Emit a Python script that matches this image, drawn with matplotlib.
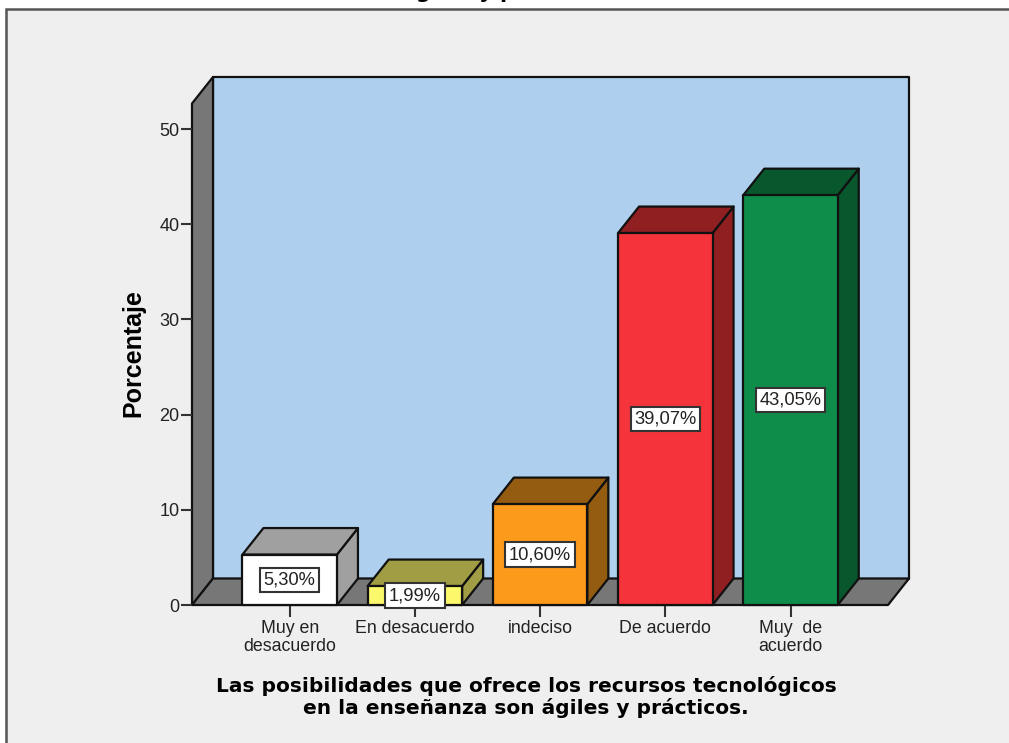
#!/usr/bin/env python3
"""
3D style bar chart of Porcentaje per answer, drawn with plain 2D polygons
"""

import matplotlib
matplotlib.use('Agg')
import matplotlib.pyplot as plt
from matplotlib.patches import Rectangle

# Data
categorias = ['Muy en\ndesacuerdo', 'En desacuerdo', 'indeciso', 'De acuerdo', 'Muy  de\nacuerdo']
porcentajes = [5.30, 1.99, 10.60, 39.07, 43.05]
etiquetas = ['5,30%', '1,99%', '10,60%', '39,07%', '43,05%']
y_ticks = [0, 10, 20, 30, 40, 50]

frente = ['#ffffff', '#fbf86b', '#fb9a1b', '#f4333b', '#0e8c4a']
lado = ['#a0a0a0', '#a09d45', '#945c10', '#901f22', '#08572d']

W, H = 1009, 743
FONDO = '#efefef'
PARED = '#aed0ee'
GRIS = '#777777'
BORDE = '#111111'

# Pixel layout of the plot box
x_izq, x_der, y_cero, y_techo = 192, 909, 605, 77
px_cat, px_0 = 125.2, 289.7
px_val = 9.52
ancho = 94.5 / px_cat
prof_x = 21 / px_cat
prof_y = 26.5 / px_val

plt.rcParams['font.family'] = ['Liberation Sans', 'DejaVu Sans']

fig = plt.figure(figsize=(W / 100, H / 100), dpi=100, facecolor='white')

# Grey panel with its frame, it runs off the right and bottom edges
fig.patches.append(Rectangle((6 / W, -0.01), 1.1, (H - 9) / H + 0.01, transform=fig.transFigure,
                             facecolor=FONDO, edgecolor='#555555', linewidth=1.8, zorder=-1))

ax = fig.add_axes([x_izq / W, 1 - y_cero / H, (x_der - x_izq) / W, (y_cero - y_techo) / H])
ax.set_xlim((x_izq - px_0) / px_cat, (x_der - px_0) / px_cat)
ax.set_ylim(0, (y_cero - y_techo) / px_val)
ax.patch.set_visible(False)
for s in ax.spines.values():
    s.set_visible(False)

x0, x1 = ax.get_xlim()
top = ax.get_ylim()[1]
x1f = x1 - prof_x  # front right corner of the floor


def poly(xs, ys, color, z):
    ax.fill(xs, ys, facecolor=color, edgecolor=BORDE, linewidth=1.6, joinstyle='round',
            clip_on=False, zorder=z)


# Walls and floor
poly([x0 + prof_x, x1, x1, x0 + prof_x], [prof_y, prof_y, top, top], PARED, 1)
poly([x0, x0 + prof_x, x0 + prof_x, x0], [0, prof_y, top, top - prof_y], GRIS, 1.1)
poly([x0, x1f, x1, x0 + prof_x], [0, 0, prof_y, prof_y], GRIS, 1.2)

# Bars
for i, v in enumerate(porcentajes):
    l, r = i - ancho / 2, i + ancho / 2
    z = 3 + i * 0.1
    poly([r, r + prof_x, r + prof_x, r], [0, prof_y, v + prof_y, v], lado[i], z)
    poly([l, r, r + prof_x, l + prof_x], [v, v, v + prof_y, v + prof_y], lado[i], z)
    poly([l, r, r, l], [0, 0, v, v], frente[i], z)
    ax.text(i, v / 2, etiquetas[i], ha='center', va='center', fontsize=13.2, color='#222222', zorder=6,
            bbox=dict(boxstyle='square,pad=0.2', facecolor='white', edgecolor='#333333', linewidth=1.5))

ax.set_yticks(y_ticks)
ax.set_xticks(range(len(categorias)))
ax.set_xticklabels(categorias, fontsize=12.8, color='#222222', linespacing=1.08)
ax.tick_params(axis='y', labelsize=13, labelcolor='#222222', length=8, width=1.5, color='#333333', pad=1)
ax.tick_params(axis='x', length=8.5, width=1.5, color='#333333', pad=2.5)

# Title is cut by the top of the image, only its descenders show
fig.text(402 / W, 1 + 2 / H, 'ágiles y prácticos', fontsize=15, fontweight='bold', family='DejaVu Sans',
         ha='left', va='baseline', color='black')

fig.text(133 / W, 1 - 353.5 / H, 'Porcentaje', rotation=90, fontsize=18, fontweight='bold',
         ha='center', va='center', color='black')
fig.text(526 / W, 1 - 697 / H, 'Las posibilidades que ofrece los recursos tecnológicos\nen la enseñanza son ágiles y prácticos.',
         fontsize=14.5, fontweight='bold', family='DejaVu Sans', ha='center', va='center',
         color='black', linespacing=1.15)

fig.savefig('out.png', dpi=100, facecolor=fig.get_facecolor())
